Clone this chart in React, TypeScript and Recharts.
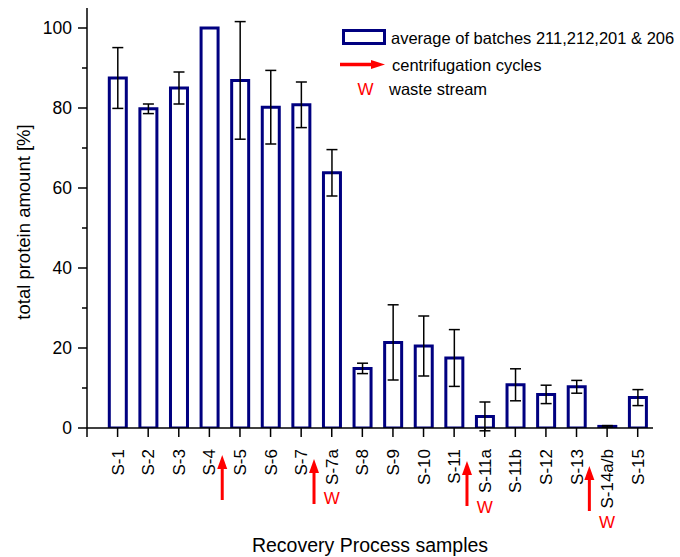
import { BarChart, Bar, XAxis, YAxis, ErrorBar, ReferenceDot, Label } from 'recharts';

const samples = [
  'S-1', 'S-2', 'S-3', 'S-4', 'S-5', 'S-6', 'S-7', 'S-7a', 'S-8',
  'S-9', 'S-10', 'S-11', 'S-11a', 'S-11b', 'S-12', 'S-13', 'S-14a/b', 'S-15',
];
// mean total protein per sample, batches 211, 212, 201 and 206
const proteinMean = [87.5, 79.8, 85.0, 100, 86.9, 80.2, 80.8, 63.8, 14.9, 21.4, 20.5, 17.5, 2.9, 10.8, 8.4, 10.3, 0.4, 7.6];
const proteinSd = [7.6, 1.2, 4.0, 0, 14.7, 9.2, 5.7, 5.8, 1.3, 9.4, 7.5, 7.1, 3.6, 4.0, 2.3, 1.6, 0.2, 2.0];
const wasteSamples = ['S-7a', 'S-11a', 'S-14a/b'];
// a centrifugation step follows each of these samples
const centrifugeAfter = ['S-4', 'S-7', 'S-11', 'S-13'];
const arrowDrop = [0, 4, 6, 11];
const yTicks = [0, 10, 20, 30, 40, 50, 60, 70, 80, 90, 100];
const xTicks = [0, ...samples.map((_, i) => i + 1)];

const data = samples.map((name, i) => ({
  pos: i + 1,
  name,
  mean: proteinMean[i],
  sd: proteinSd[i],
}));

const FONT = '"Liberation Sans", Arial, Helvetica, sans-serif';
const NAVY = '#000080';
const RED = '#ff0000';
const TICK_SIZE = 17;

// rough Arial advance widths, used to place the W under rotated labels
const charW: Record<string, number> = { S: 0.667, '-': 0.333, a: 0.556, b: 0.556, '/': 0.278 };
const textLen = (s: string, size: number) =>
  s.split('').reduce((sum, c) => sum + (charW[c] ?? 0.556), 0) * size;

const SampleTick = (props: any) => {
  const { x, y, payload } = props;
  const name = samples[payload.value - 1];
  const top = y + 21;
  return (
    <g>
      <line x1={x} y1={y} x2={x} y2={y + 9} stroke="#000" strokeWidth={1.5} />
      {name && (
        <text
          x={x}
          y={top}
          transform={`rotate(-90 ${x} ${top})`}
          textAnchor="end"
          dy="0.36em"
          fontSize={TICK_SIZE}
          fill="#000"
        >
          {name}
        </text>
      )}
      {name && wasteSamples.includes(name) && (
        <text x={x} y={top + textLen(name, TICK_SIZE) + 19} textAnchor="middle" fontSize={17} fill={RED}>
          W
        </text>
      )}
    </g>
  );
};

const PercentTick = (props: any) => {
  const { x, y, payload } = props;
  const major = payload.value % 20 === 0;
  return (
    <g>
      <line x1={x - (major ? 9 : 5)} y1={y} x2={x} y2={y} stroke="#000" strokeWidth={1.5} />
      {major && (
        <text x={x - 15} y={y} textAnchor="end" dy="0.36em" fontSize={17.5} fill="#000">
          {payload.value}
        </text>
      )}
    </g>
  );
};

const UpArrow = ({ cx, cy, drop }: { cx: number; cy: number; drop: number }) => {
  const tip = cy + 27 + drop;
  return (
    <g>
      <line x1={cx} y1={tip + 12} x2={cx} y2={tip + 45} stroke={RED} strokeWidth={3} />
      <polygon points={`${cx},${tip} ${cx - 5},${tip + 14} ${cx + 5},${tip + 14}`} fill={RED} />
    </g>
  );
};

const YTitle = (props: any) => {
  const vb = props.viewBox ?? { x: 0, y: 8, width: 87, height: 420 };
  const cx = vb.x + 23;
  const cy = vb.y + vb.height / 2 + 4;
  return (
    <text x={cx} y={cy} transform={`rotate(-90 ${cx} ${cy})`} textAnchor="middle" dy="0.36em" fontSize={18.5} fill="#000">
      total protein amount [%]
    </text>
  );
};

const XTitle = (props: any) => {
  const vb = props.viewBox ?? { x: 87, y: 428, width: 566, height: 129 };
  return (
    <text x={vb.x + vb.width / 2} y={vb.y + 124} textAnchor="middle" fontSize={19.5} fill="#000">
      Recovery Process samples
    </text>
  );
};

const ChartLegend = () => (
  <svg width={680} height={110} style={{ position: 'absolute', left: 0, top: 0, fontFamily: FONT }}>
    <rect x={343.5} y={30.5} width={41} height={13} fill="#fff" stroke={NAVY} strokeWidth={3} />
    <text x={391} y={44} fontSize={16.5} fill="#000">average of batches 211,212,201 &amp; 206</text>
    <line x1={340} y1={64.5} x2={373} y2={64.5} stroke={RED} strokeWidth={3.5} />
    <polygon points="385,64.5 371,60 371,69" fill={RED} />
    <text x={392} y={70.5} fontSize={16.5} fill="#000">centrifugation cycles</text>
    <text x={365.5} y={94.5} textAnchor="middle" fontSize={17} fill={RED}>W</text>
    <text x={389} y={94.5} fontSize={16.5} fill="#000">waste stream</text>
  </svg>
);

export default function App() {
  return (
    <div style={{ position: 'absolute', left: 0, top: 0, width: 680, height: 557, background: '#fff', fontFamily: FONT }}>
      <BarChart width={680} height={557} data={data} margin={{ top: 8, right: 27, bottom: 0, left: 0 }}>
        <XAxis
          dataKey="pos"
          type="number"
          domain={[0, 18.5]}
          ticks={xTicks}
          interval={0}
          allowDataOverflow
          height={129}
          tickSize={0}
          tickMargin={0}
          tickLine={false}
          axisLine={{ stroke: '#000', strokeWidth: 1.5 }}
          tick={<SampleTick />}
        >
          <Label content={<XTitle />} />
        </XAxis>
        <YAxis
          type="number"
          domain={[0, 105]}
          ticks={yTicks}
          interval={0}
          allowDataOverflow
          width={87}
          tickSize={0}
          tickMargin={0}
          tickLine={false}
          axisLine={{ stroke: '#000', strokeWidth: 1.5 }}
          tick={<PercentTick />}
        >
          <Label content={<YTitle />} />
        </YAxis>
        <Bar dataKey="mean" barSize={17} fill="#fff" stroke={NAVY} strokeWidth={3} isAnimationActive={false}>
          <ErrorBar dataKey="sd" width={5.5} stroke="#000" strokeWidth={1.5} isAnimationActive={false} />
        </Bar>
        {centrifugeAfter.map((name, i) => (
          <ReferenceDot
            key={name}
            x={samples.indexOf(name) + 1.42}
            y={0}
            r={0}
            ifOverflow="visible"
            shape={(p: any) => <UpArrow cx={p.cx} cy={p.cy} drop={arrowDrop[i]} />}
          />
        ))}
      </BarChart>
      <ChartLegend />
    </div>
  );
}
